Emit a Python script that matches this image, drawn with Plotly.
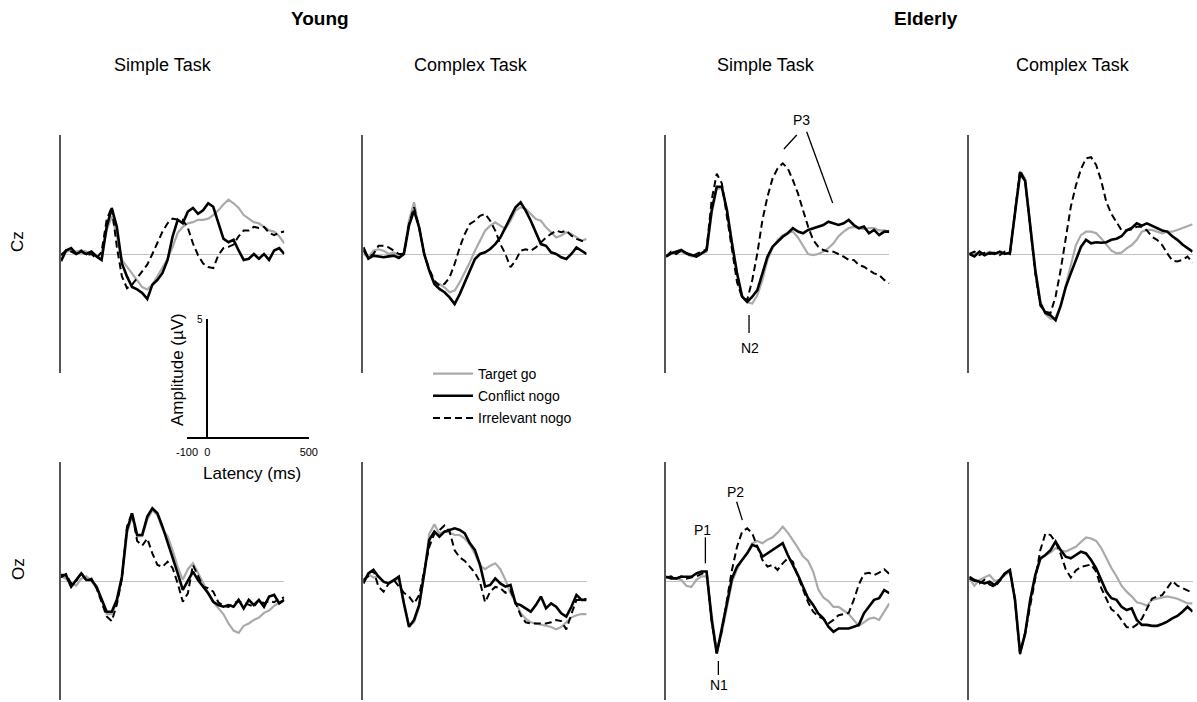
import plotly.graph_objects as go

# ---------------- data (µV), sampled every 25 ms ----------------
times_ms = list(range(-100, 1001, 25))

cz_young_simple_target = [0.0,0.1,0.15,0.1,0.15,0.1,0.0,-0.05,0.0,1.0,1.6,0.75,-0.25,-0.55,-0.8,-1.1,-1.4,-1.5,-1.3,-0.95,-0.6,-0.2,0.3,0.9,1.15,1.3,1.35,1.45,1.45,1.5,1.65,1.85,2.1,2.3,2.15,1.95,1.65,1.5,1.35,1.3,1.15,1.0,0.95,0.75,0.45]
cz_young_simple_conflict = [-0.3,0.15,0.25,0.0,0.1,0.0,0.1,-0.1,-0.25,1.15,1.95,1.15,-0.4,-0.95,-1.4,-1.5,-1.65,-1.9,-1.3,-1.1,-0.8,-0.25,0.75,1.45,1.3,1.8,1.95,1.7,1.85,2.15,2.0,1.3,0.65,0.5,0.6,0.15,-0.25,-0.2,0.0,-0.2,0.0,-0.25,0.15,0.25,0.0]
cz_young_simple_irrelevant = [-0.05,0.15,0.1,0.0,0.15,-0.05,0.0,-0.2,0.1,1.45,2.0,0.3,-0.95,-1.45,-1.3,-1.0,-0.75,-0.45,0.0,0.5,0.95,1.3,1.5,1.45,1.45,1.1,0.45,-0.05,-0.4,-0.55,-0.6,-0.05,0.25,0.3,0.4,0.75,1.0,1.0,1.15,1.1,1.15,0.9,0.8,0.9,0.95]

cz_young_complex_target = [0,-0.14,0.14,0.2,0.14,0,0.07,-0.07,0.07,1.41,2.19,1.13,0,-0.7,-1.2,-1.27,-1.41,-1.62,-1.55,-1.2,-0.78,-0.35,0.14,0.56,0.99,1.2,1.34,1.2,1.06,1.41,1.84,1.98,1.91,1.7,1.48,1.41,1.13,0.92,0.7,0.78,0.92,0.85,0.7,0.56,0.64]
cz_young_complex_conflict = [0.28,-0.2,-0.07,-0.1,-0.14,-0.1,-0.07,-0.17,0,1.2,1.84,1.13,0,-0.7,-1.27,-1.48,-1.62,-1.84,-2.12,-1.7,-1.2,-0.64,-0.21,0,0.07,0.21,0.42,0.7,1.13,1.55,1.98,2.19,1.84,1.41,0.92,0.42,0.35,0.07,0,-0.14,-0.21,0,0.28,0.14,0]
cz_young_complex_irrelevant = [0.14,-0.14,0,0.35,0.35,0.28,0.14,0,0,1.27,1.98,1.13,0,-0.64,-1.13,-1.34,-1.27,-0.99,-0.42,0.28,0.85,1.27,1.41,1.62,1.7,1.41,0.99,0.42,0,-0.56,-0.28,0.14,0.2,0.14,0.28,0.49,0.7,0.85,0.99,0.92,0.99,0.78,0.64,0.56,0.49]

cz_elderly_simple_target = [-0.1,0,0.1,0.1,0,-0.1,-0.1,0,0.1,1.7,2.75,2.8,1.9,0.5,-0.8,-1.75,-2.05,-2.1,-1.75,-1.1,-0.25,0.25,0.6,0.8,0.9,0.95,0.7,0.35,0,-0.05,0,0.1,0.25,0.45,0.75,0.95,1.1,1.15,1.1,1.05,1.1,1.1,1.0,1.0,0.95]
cz_elderly_simple_conflict = [-0.11,0.03,0.1,0.17,0.03,-0.04,-0.11,0.03,0.17,1.86,2.85,2.85,1.86,0.45,-0.82,-1.81,-2.03,-1.81,-1.53,-0.82,-0.11,0.31,0.52,0.73,0.88,1.09,0.95,0.88,1.02,1.09,1.16,1.23,1.37,1.3,1.23,1.3,1.44,1.23,1.09,1.16,0.88,1.02,0.8,0.95,0.95]
cz_elderly_simple_irrelevant = [-0.1,0.1,0,0.15,0.05,-0.1,0,0.1,0.2,2.3,3.4,3.0,1.6,0.2,-1.2,-1.85,-1.95,-1.1,0.03,1.44,2.43,3.2,3.63,3.84,3.63,3.13,2.57,1.86,1.16,0.59,0.31,0.17,0.1,0.1,0,-0.11,-0.25,-0.25,-0.47,-0.54,-0.68,-0.82,-0.89,-1.1,-1.24]

cz_elderly_complex_target = [0.05,0,0.05,0,0.1,0.05,0,0.05,0,1.8,3.5,3.2,1.4,-0.6,-2.0,-2.55,-2.75,-2.7,-2.2,-1.3,-0.4,0.38,0.8,0.95,0.95,0.88,0.66,0.38,0.14,0.03,0.06,0.24,0.38,0.6,0.95,1.02,1.02,0.95,0.88,0.95,0.95,1.02,1.09,1.16,1.26]
cz_elderly_complex_conflict = [0,-0.1,0.1,-0.05,0.05,0,0.1,0,0.05,1.7,3.4,3.1,1.3,-0.7,-2.1,-2.5,-2.6,-2.8,-2.2,-1.4,-0.82,-0.25,0.3,0.6,0.45,0.5,0.48,0.5,0.6,0.65,0.75,1.0,1.1,1.3,1.2,1.3,1.2,1.1,1.0,0.95,0.75,0.6,0.4,0.25,0.1]
cz_elderly_complex_irrelevant = [0,0.1,-0.05,0.05,0,0.05,-0.05,0.1,0,1.9,3.55,3.1,1.2,-0.8,-2.2,-2.45,-2.5,-1.8,-0.68,0.6,2.0,2.9,3.6,4.05,4.1,3.77,3.1,2.2,1.7,1.35,1.0,1.0,1.05,1.15,1.15,1.0,0.73,0.6,0.38,0.03,-0.28,-0.32,-0.25,-0.11,-0.37]

oz_young_simple_target = [0.2,0.1,-0.1,-0.2,0.1,0.2,0,-0.3,-0.8,-1.4,-1.4,-0.9,0.1,2.0,2.8,1.9,1.9,2.6,3.0,2.8,2.2,1.9,1.3,0.6,0.05,0.5,0.75,0.35,-0.1,-0.5,-0.9,-1.15,-1.4,-1.8,-2.1,-2.2,-1.9,-1.8,-1.65,-1.55,-1.35,-1.25,-1.05,-0.9,-0.8]
oz_young_simple_conflict = [0.25,0.25,-0.24,0.04,0.32,0.04,0.04,-0.24,-0.8,-1.3,-1.3,-0.8,0.18,2.16,2.87,1.95,1.95,2.73,3.08,2.87,2.3,1.67,1.03,0.32,-0.38,0.04,0.4,0.04,-0.24,-0.52,-0.88,-1.02,-1.09,-1.02,-1.09,-0.8,-1.16,-0.8,-1.02,-0.8,-1.09,-0.66,-0.59,-0.95,-0.8]
oz_young_simple_irrelevant = [0.15,0.3,-0.1,0,0.35,0,0.1,-0.3,-0.9,-1.5,-1.7,-1.0,0.1,2.3,2.9,1.7,1.5,1.8,1.17,0.68,0.6,0.82,0.54,-0.1,-0.88,-0.52,0.68,0.18,-0.24,-0.3,-0.45,-0.9,-1.05,-1.1,-0.95,-0.85,-0.95,-1.0,-1.1,-0.8,-0.95,-0.85,-0.9,-0.75,-0.7]

oz_young_complex_target = [0,0.3,0.15,0.2,-0.05,-0.1,0,0.1,-0.9,-1.9,-1.75,-1.1,0.3,2.0,2.4,2.0,2.1,2.05,1.95,1.95,1.8,1.55,1.15,0.65,0.5,0.65,0.75,0.5,0.05,-0.5,-0.9,-1.35,-1.6,-1.75,-1.8,-1.85,-1.9,-1.95,-2.05,-1.95,-1.75,-1.55,-1.45,-1.4,-1.4]
oz_young_complex_conflict = [-0.1,0.32,0.47,0.18,-0.03,-0.1,0.04,0.18,-0.95,-1.94,-1.65,-1.02,0.32,1.74,2.09,1.88,2.09,2.16,2.23,2.16,2.02,1.6,1.31,0.68,-0.24,-0.17,0.11,-0.1,-0.24,-0.17,-0.95,-1.02,-1.16,-1.3,-1.02,-0.66,-1.16,-0.95,-1.09,-1.37,-1.51,-1.09,-0.59,-0.8,-0.8]
oz_young_complex_irrelevant = [0.05,0.2,0.45,-0.25,-0.45,-0.1,0.05,-0.25,-0.5,-0.65,-0.95,-0.6,0.5,1.45,2.0,2.15,2.35,2.1,1.3,1.0,0.85,0.6,0.35,-0.05,-0.9,-0.45,-0.25,-0.3,-0.5,-0.4,-0.9,-1.45,-1.75,-1.8,-1.8,-1.8,-1.8,-1.75,-1.65,-1.7,-2.05,-1.4,-0.8,-0.8,-0.75]

oz_elderly_simple_target = [0.15,0.15,0.1,0.05,-0.2,-0.25,0.05,0.2,0.2,-1.5,-3.0,-2.2,-1.1,-0.05,0.5,0.9,1.2,1.6,1.7,1.6,1.75,1.85,2.05,2.3,2.05,1.75,1.4,1.05,0.85,0.4,-0.35,-0.7,-0.85,-1.1,-1.1,-1.25,-1.4,-1.65,-1.9,-1.75,-1.6,-1.55,-1.65,-1.3,-0.95]
oz_elderly_simple_conflict = [0.18,0.11,0.11,0.18,0.18,0.18,0.32,0.4,0.4,-1.65,-3.07,-2.08,-0.95,0.11,0.61,0.89,1.17,1.53,1.45,1.03,1.17,1.31,1.45,1.6,1.1,0.68,0.25,-0.24,-0.73,-1.02,-1.37,-1.58,-1.94,-2.15,-2.01,-2.01,-2.01,-1.94,-1.86,-1.37,-1.09,-0.8,-0.73,-0.38,-0.52]
oz_elderly_simple_irrelevant = [0.15,0.2,0.1,0.2,0.1,0.15,0.2,0.3,0.4,-1.7,-3.05,-2.1,-0.85,0.47,1.45,2.09,2.23,2.02,1.45,0.89,0.61,0.68,0.47,0.75,0.96,0.82,0.18,-0.4,-0.9,-1.3,-1.5,-1.6,-1.8,-1.65,-1.45,-1.4,-1.35,-0.8,-0.15,0.3,0.35,0.25,0.35,0.5,0.3]

oz_elderly_complex_target = [0.1,-0.2,0.05,0.15,0.25,0,0.05,0.25,0.4,-0.7,-3.0,-2.3,-0.8,0.2,0.9,1.1,1.2,1.4,1.3,1.25,1.35,1.45,1.65,1.85,1.8,1.7,1.4,0.95,0.55,0.2,-0.2,-0.45,-0.65,-0.9,-0.95,-1.05,-0.8,-0.75,-0.7,-0.65,-0.7,-0.75,-0.85,-0.95,-0.95]
oz_elderly_complex_conflict = [0.18,0.04,-0.03,-0.1,-0.03,-0.17,0.04,0.32,0.47,-0.8,-3.06,-2.22,-0.8,0.25,0.96,1.1,1.31,1.67,1.31,1.03,0.96,1.1,1.24,1.17,0.89,0.54,0.04,-0.45,-0.73,-0.8,-1.09,-1.23,-1.16,-1.65,-1.86,-1.86,-1.9,-1.9,-1.82,-1.72,-1.58,-1.48,-1.3,-1.09,-1.3]
oz_elderly_complex_irrelevant = [0.1,0,-0.1,0.05,-0.15,-0.25,0,0.3,0.45,-0.8,-3.1,-2.2,-1.1,0.1,1.31,2.02,1.95,1.65,1.15,0.5,0.15,0.45,0.6,0.65,0.7,0.4,-0.3,-0.75,-1.2,-1.35,-1.65,-1.95,-2.0,-1.85,-1.6,-1.2,-0.75,-0.65,-0.6,-0.3,0.0,-0.2,-0.3,-0.4,-0.5]

group_titles = ["Young", "Elderly"]
task_titles = ["Simple Task", "Complex Task", "Simple Task", "Complex Task"]
electrodes = ["Cz", "Oz"]
series_names = ["Target go", "Conflict nogo", "Irrelevant nogo"]

scale_x_ticks = [-100, 0, 500]
scale_y_ticks = [5]

# component labels: (text, row, col, latency ms, amplitude µV)
component_labels = [("P3", 0, 2, 568, 5.68), ("N2", 0, 2, 314, -3.98),
                    ("P1", 1, 2, 79, 2.16), ("P2", 1, 2, 240, 3.78), ("N1", 1, 2, 163, -4.4)]
# pointer lines: (row, col, t0, v0, t1, v1)
component_pointers = [(0, 2, 544, 5.04, 481, 4.45), (0, 2, 593, 5.18, 721, 2.16),
                      (0, 2, 309, -2.58, 309, -3.35), (1, 2, 94, 1.85, 94, 0.75),
                      (1, 2, 248, 3.36, 276, 2.58), (1, 2, 158, -3.39, 158, -3.98)]

panels = [
    [(cz_young_simple_target, cz_young_simple_conflict, cz_young_simple_irrelevant),
     (cz_young_complex_target, cz_young_complex_conflict, cz_young_complex_irrelevant),
     (cz_elderly_simple_target, cz_elderly_simple_conflict, cz_elderly_simple_irrelevant),
     (cz_elderly_complex_target, cz_elderly_complex_conflict, cz_elderly_complex_irrelevant)],
    [(oz_young_simple_target, oz_young_simple_conflict, oz_young_simple_irrelevant),
     (oz_young_complex_target, oz_young_complex_conflict, oz_young_complex_irrelevant),
     (oz_elderly_simple_target, oz_elderly_simple_conflict, oz_elderly_simple_irrelevant),
     (oz_elderly_complex_target, oz_elderly_complex_conflict, oz_elderly_complex_irrelevant)],
]

# ---------------- layout geometry ----------------
W, H = 1197, 702
FONT = "Liberation Sans, Arial, sans-serif"
COL_LEFT = [61, 363.3, 666, 969.3]
ROW_MID = [254, 581]
PX_MS = 0.203
PX_UV = 23.6
X_RANGE = [-100, 1000]
Y_LIM = 5.03


def paper_x(col, t):
    return (COL_LEFT[col] + (t - X_RANGE[0]) * PX_MS) / W


def paper_y(row, v):
    return 1 - (ROW_MID[row] - v * PX_UV) / H


styles = [
    dict(color="#aaaaaa", width=2.2),
    dict(color="#000000", width=2.6),
    dict(color="#000000", width=2.0, dash="7px,4px"),
]
groups = ["target", "conflict", "irrelevant"]

fig = go.Figure()
layout = {}
for r in range(2):
    for c in range(4):
        i = r * 4 + c + 1
        xs = "x" if i == 1 else f"x{i}"
        ys = "y" if i == 1 else f"y{i}"
        for s in range(3):
            fig.add_trace(go.Scatter(
                x=times_ms, y=panels[r][c][s], mode="lines",
                line=styles[s], name=series_names[s], legendgroup=groups[s],
                showlegend=(i == 1), xaxis=xs, yaxis=ys, hoverinfo="skip"))
        key = "" if i == 1 else str(i)
        layout["xaxis" + key] = dict(
            domain=[paper_x(c, X_RANGE[0]), paper_x(c, X_RANGE[1])], range=X_RANGE,
            anchor=ys, visible=False, fixedrange=True, automargin=False)
        layout["yaxis" + key] = dict(
            domain=[paper_y(r, -Y_LIM), paper_y(r, Y_LIM)], range=[-Y_LIM, Y_LIM],
            anchor=xs, showline=True, linecolor="#555555", linewidth=1.5,
            ticks="inside", tickvals=[-5, 5], ticklen=4, tickcolor="#555555", tickwidth=1.5,
            showticklabels=False, showgrid=False, zeroline=True,
            zerolinecolor="#c2c2c2", zerolinewidth=1, fixedrange=True, automargin=False)

# scale bar axes
sb_left = 187
sb_bottom = 437
fig.add_trace(go.Scatter(x=[None], y=[None], xaxis="x9", yaxis="y9", showlegend=False, hoverinfo="skip"))
layout["xaxis9"] = dict(
    domain=[sb_left / W, (sb_left + 600 * PX_MS) / W], range=[-100, 500], anchor="y9",
    showline=True, linecolor="black", linewidth=1.5, ticks="", tickvals=scale_x_ticks,
    ticktext=[str(v) for v in scale_x_ticks], tickfont=dict(family=FONT, size=11, color="black"),
    ticklabelstandoff=4, showgrid=False, zeroline=False, fixedrange=True, automargin=False)
layout["yaxis9"] = dict(
    domain=[1 - sb_bottom / H, 1 - (sb_bottom - 5 * PX_UV) / H], range=[0, 5], anchor="free",
    position=(sb_left + 100 * PX_MS) / W, showline=True, linecolor="black", linewidth=1.5,
    ticks="", tickvals=scale_y_ticks, ticktext=[str(v) for v in scale_y_ticks],
    tickfont=dict(family=FONT, size=10, color="black"), ticklabelstandoff=2,
    showgrid=False, zeroline=False, fixedrange=True, automargin=False)

annotations = []


def txt(x, y, text, size, angle=0, xanchor="center"):
    annotations.append(dict(x=x, y=y, xref="paper", yref="paper", text=text, showarrow=False,
                            textangle=angle, xanchor=xanchor, yanchor="middle",
                            font=dict(family=FONT, size=size, color="black")))


txt(320 / W, 1 - 18 / H, "<b>" + group_titles[0] + "</b>", 19)
txt(926 / W, 1 - 18 / H, "<b>" + group_titles[1] + "</b>", 19)
for c, xc in enumerate([163, 471, 766, 1073]):
    txt(xc / W, 1 - 65 / H, task_titles[c], 18)
txt(18 / W, 1 - 242 / H, electrodes[0], 17, angle=-90)
txt(18 / W, 1 - 569 / H, electrodes[1], 17, angle=-90)
txt(252 / W, 1 - 473 / H, "Latency (ms)", 17)
txt(177 / W, 1 - 370 / H, "Amplitude (µV)", 17, angle=-90)
for (t, r, c, lat, amp) in component_labels:
    txt(paper_x(c, lat), paper_y(r, amp), t, 14)

shapes = []
for (r, c, t0, v0, t1, v1) in component_pointers:
    shapes.append(dict(type="line", xref="paper", yref="paper",
                       x0=paper_x(c, t0), y0=paper_y(r, v0), x1=paper_x(c, t1), y1=paper_y(r, v1),
                       line=dict(color="black", width=1.3)))

fig.update_layout(
    template="none",
    width=W, height=H, margin=dict(l=0, r=0, t=0, b=0, pad=0, autoexpand=False),
    paper_bgcolor="white", plot_bgcolor="white",
    annotations=annotations, shapes=shapes,
    legend=dict(x=428 / W, y=1 - 358 / H, xanchor="left", yanchor="top",
                font=dict(family=FONT, size=14, color="black"), bgcolor="rgba(0,0,0,0)",
                traceorder="grouped", tracegroupgap=1, itemwidth=40),
    **layout)

fig.write_html("out.html", config={"displayModeBar": False},
               post_script="document.body.style.margin='0px';")
